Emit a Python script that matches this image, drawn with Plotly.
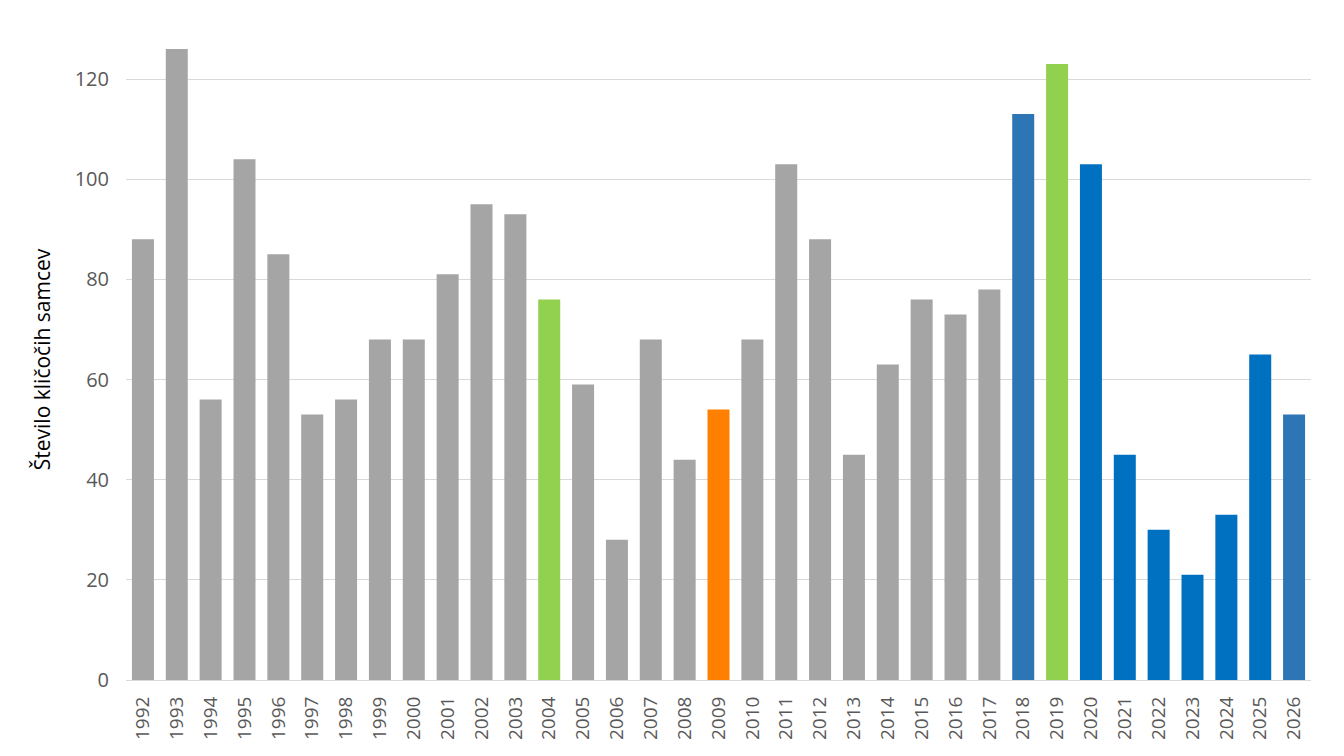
import plotly.graph_objects as go

years = [str(y) for y in range(1992, 2027)]
values = [88, 126, 56, 104, 85, 53, 56, 68, 68, 81, 95, 93, 76, 59, 28, 68, 44, 54, 68,
          103, 88, 45, 63, 76, 73, 78, 113, 123, 103, 45, 30, 21, 33, 65, 53]

GRAY = "#A5A5A5"
GREEN = "#92D050"
ORANGE = "#FF8000"
BLUE1 = "#2E75B6"
BLUE2 = "#0070C0"
color_map = {"2004": GREEN, "2019": GREEN, "2009": ORANGE, "2018": BLUE1, "2026": BLUE1,
             "2020": BLUE2, "2021": BLUE2, "2022": BLUE2, "2023": BLUE2, "2024": BLUE2, "2025": BLUE2}
colors = [color_map.get(y, GRAY) for y in years]

fig = go.Figure(go.Bar(x=years, y=values, marker=dict(color=colors, line=dict(width=0)),
                       hoverinfo="x+y"))

fig.update_layout(
    width=1344, height=756,
    margin=dict(l=126, r=33, t=39, b=76),
    paper_bgcolor="white", plot_bgcolor="white",
    bargap=0.35,
    showlegend=False,
    font=dict(family="Open Sans, Noto Sans, sans-serif", color="#595959"),
)
fig.update_xaxes(type="category", tickangle=-90, tickfont=dict(size=19, color="#595959"),
                 showgrid=False, showline=True, linecolor="#D9D9D9", linewidth=1,
                 ticks="", ticklen=0, ticklabelstandoff=8)
fig.update_yaxes(range=[0, 128], dtick=20, tick0=0, showgrid=True, gridcolor="#D9D9D9",
                 gridwidth=1, zeroline=False, showline=False,
                 tickfont=dict(size=20, color="#595959"), ticklabelstandoff=16,
                 title=dict(text="Število kličočih samcev", font=dict(size=21, color="#000000"),
                            standoff=18))

fig.write_html("out.html")
